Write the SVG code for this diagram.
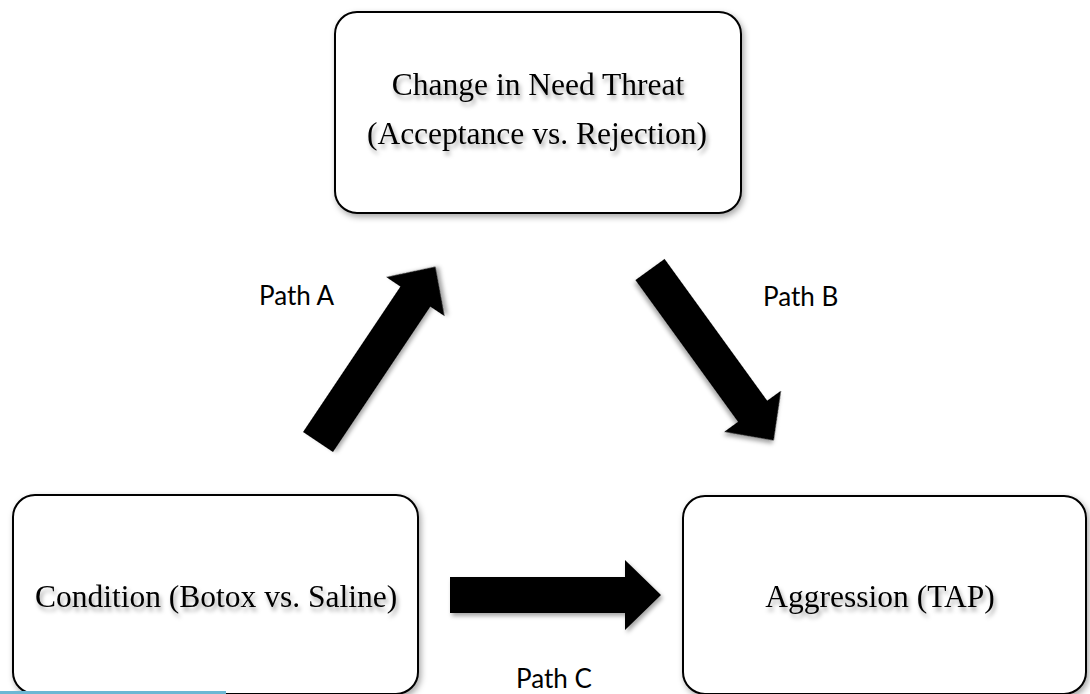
<svg xmlns="http://www.w3.org/2000/svg" width="1090" height="694" viewBox="0 0 1090 694">
  <style>
    .box { fill: #ffffff; stroke: #000000; stroke-width: 2; filter: url(#boxShadow); }
    .label { font-family: "Liberation Serif", "Times New Roman", serif; font-size: 31.5px; fill: #000000; text-anchor: middle; filter: url(#textShadow); }
    .path-label { font-family: Lato, "Liberation Sans", sans-serif; font-size: 26px; fill: #000000; }
    .arrow { fill: #000000; filter: url(#arrowShadow); }
  </style>
  <defs>
    <filter id="boxShadow" x="-10%" y="-10%" width="130%" height="130%">
      <feDropShadow dx="2" dy="3" stdDeviation="3" flood-color="#000000" flood-opacity="0.35"/>
    </filter>
    <filter id="textShadow" x="-10%" y="-30%" width="120%" height="180%">
      <feDropShadow dx="2" dy="4" stdDeviation="2" flood-color="#000000" flood-opacity="0.35"/>
    </filter>
    <filter id="arrowShadow" x="-20%" y="-50%" width="140%" height="200%">
      <feDropShadow dx="2" dy="3" stdDeviation="2" flood-color="#000000" flood-opacity="0.35"/>
    </filter>
    <path id="bigArrow" d="M0,-18 L175,-18 L175,-35 L211,0 L175,35 L175,18 L0,18 Z"/>
  </defs>

  <g id="connectors">
    <use href="#bigArrow" class="arrow" transform="translate(318,442) rotate(-56.2)"/>
    <use href="#bigArrow" class="arrow" transform="translate(650,269.5) rotate(54.1)"/>
    <use href="#bigArrow" class="arrow" transform="translate(450,595)"/>
    <text class="path-label" x="259" y="305">Path A</text>
    <text class="path-label" x="763" y="306">Path B</text>
    <text class="path-label" x="516" y="688">Path C</text>
  </g>

  <g id="node-need-threat">
    <rect class="box" x="335" y="12" width="406" height="201" rx="22" ry="22"/>
    <text class="label" x="538" y="95">Change in Need Threat</text>
    <text class="label" x="537" y="144">(Acceptance vs. Rejection)</text>
  </g>

  <g id="node-condition">
    <rect class="box" x="13" y="495" width="405" height="199" rx="22" ry="22"/>
    <text class="label" x="216" y="607">Condition (Botox vs. Saline)</text>
  </g>

  <g id="node-aggression">
    <rect class="box" x="683" y="496" width="403" height="198" rx="22" ry="22"/>
    <text class="label" x="880" y="607">Aggression (TAP)</text>
  </g>

  <rect x="0" y="691" width="226" height="3" fill="#6cb8d4"/>
</svg>
